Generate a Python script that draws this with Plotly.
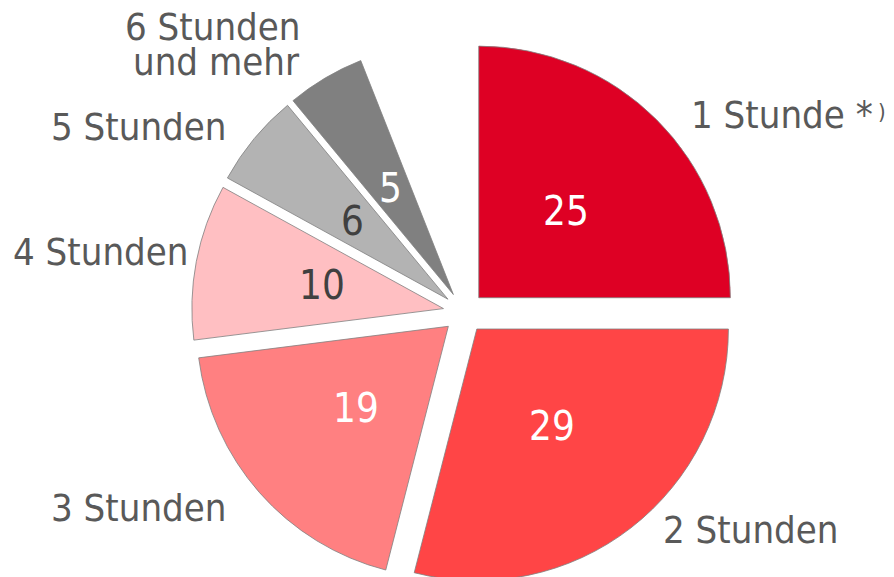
import math
import plotly.graph_objects as go

labels = ["1 Stunde", "2 Stunden", "3 Stunden", "4 Stunden", "5 Stunden", "6 Stunden und mehr", "ohne Angabe"]
values = [25, 29, 19, 10, 6, 5, 6]
colors = ["#DE0024", "#FF4546", "#FF8081", "#FFBFC2", "#B3B3B3", "#808080", "rgba(0,0,0,0)"]
text_colors = ["white", "white", "white", "#404040", "#404040", "white", "white"]
shown = [True, True, True, True, True, True, False]

W, H = 894, 577
OFF = 8            # page body margin offset
top = 32
cx = 456
half = 300
pull = 0.083

line_colors = ["#808080" if s else "rgba(0,0,0,0)" for s in shown]

fig = go.Figure(go.Pie(
    labels=labels,
    values=values,
    sort=False,
    direction="clockwise",
    rotation=0,
    pull=[pull] * len(values),
    marker=dict(colors=colors, line=dict(color=line_colors, width=0.8)),
    textinfo="none",
    hoverinfo="skip",
    showlegend=False,
    domain=dict(x=[(cx - half) / W, (cx + half) / W], y=[0, (H - top) / H]),
))

# value labels placed along each slice bisector
box = H - top
r = box / (2 * (1 + pull))
cy = top + box / 2
total = sum(values)
cum = 0
num_font = "DejaVu Sans Condensed, DejaVu Sans"
for v, s, tc in zip(values, shown, text_colors):
    mid = (cum + v / 2) / total * 2 * math.pi
    cum += v
    if not s:
        continue
    d = pull * r + 0.49 * r
    fx = cx + d * math.sin(mid)
    fy = cy - d * math.cos(mid)
    fig.add_annotation(text=str(v), x=fx / W, y=1 - fy / H, xref="paper", yref="paper",
                       xanchor="center", yanchor="middle", showarrow=False,
                       font=dict(family=num_font, size=40, color=tc))

lab_col = "#595959"
outer = [
    ("1 Stunde *", 690, 115, "left", 38),
    (")", 882, 111, "center", 22),
    ("2 Stunden", 750, 530, "center", 38),
    ("3 Stunden", 138, 508, "center", 38),
    ("4 Stunden", 100, 252, "center", 38),
    ("5 Stunden", 138, 127, "center", 38),
    ("6 Stunden", 301, 27, "right", 38),
    ("und mehr", 301, 62, "right", 38),
]
for t, x, y, anc, sz in outer:
    fig.add_annotation(text=t, x=(x - OFF) / W, y=1 - (y - OFF) / H, xref="paper", yref="paper",
                       xanchor=anc, yanchor="middle", showarrow=False, borderpad=0,
                       font=dict(family=num_font, size=sz, color=lab_col))

fig.update_layout(
    width=W, height=H,
    margin=dict(l=0, r=0, t=0, b=0),
    paper_bgcolor="white", plot_bgcolor="white",
)
fig.write_html("out.html")
